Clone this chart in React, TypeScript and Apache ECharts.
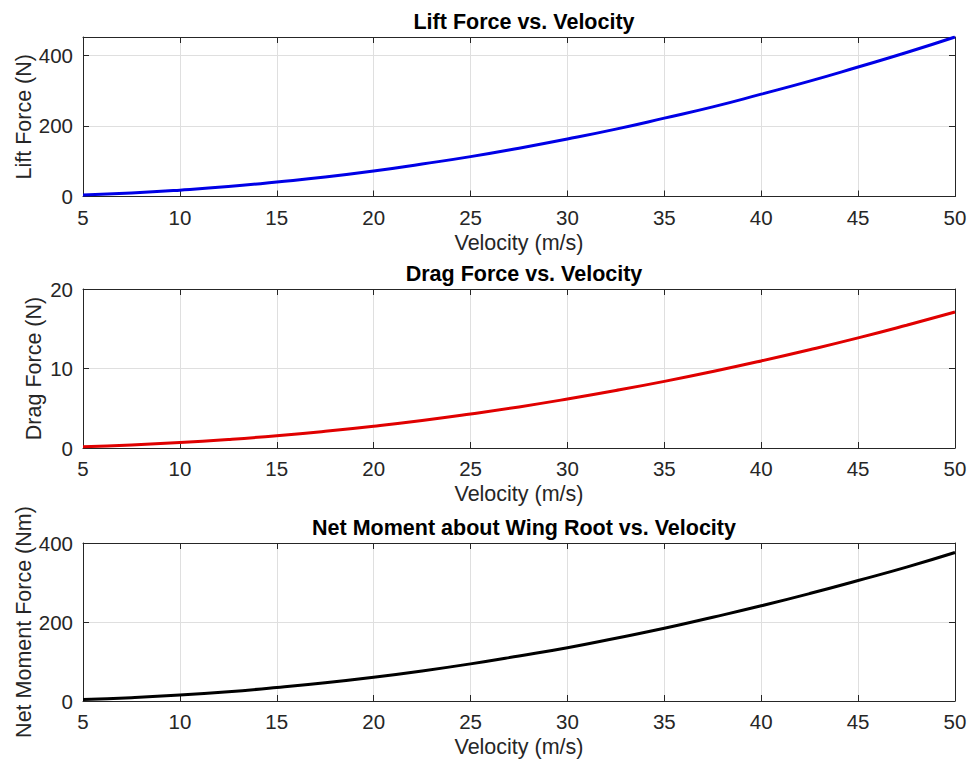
import React, { useEffect, useRef } from "react";
import * as echarts from "echarts";

const velocity = [5, 7.5, 10, 12.5, 15, 17.5, 20, 22.5, 25, 27.5, 30, 32.5, 35, 37.5, 40, 42.5, 45, 47.5, 50];
const liftForce = [4.5, 10, 18, 28, 41, 55, 72, 92, 113, 137, 163, 191, 222, 254, 290, 327, 367, 408, 452];
const dragForce = [0.17, 0.38, 0.68, 1.07, 1.54, 2.1, 2.74, 3.46, 4.28, 5.17, 6.16, 7.23, 8.38, 9.62, 10.95, 12.36, 13.85, 15.44, 17.1];
const netMoment = [3.8, 8.5, 15, 23.5, 34, 46, 60, 76, 94, 114, 135, 159, 184, 212, 241, 272, 305, 339, 376];

const titles = ["Lift Force vs. Velocity", "Drag Force vs. Velocity", "Net Moment about Wing Root vs. Velocity"];
const yNames = ["Lift Force (N)", "Drag Force (N)", "Net Moment Force (Nm)"];
const xName = "Velocity (m/s)";
const yMax = [452, 20, 400];
const yInterval = [200, 10, 200];
const colors = ["#0000e6", "#e00000", "#000000"];
const seriesValues = [liftForce, dragForce, netMoment];

const gridTops = [37, 289, 543];
const gridHeights = [159.5, 159, 158];
const yNameGaps = [48, 38, 48];
const FONT = "'Liberation Sans', Arial, Helvetica, sans-serif";
const AXIS_COLOR = "#262626";

export default function App() {
  const ref = useRef<HTMLDivElement>(null);
  useEffect(() => {
    if (!ref.current) return;
    const chart = echarts.init(ref.current, null, { renderer: "svg" });
    const grids: any[] = [];
    const xAxes: any[] = [];
    const yAxes: any[] = [];
    const series: any[] = [];
    const title: any[] = [];
    for (let i = 0; i < 3; i++) {
      grids.push({ left: 83, top: gridTops[i], width: 872, height: gridHeights[i], show: false });
      title.push({
        text: titles[i],
        left: 519,
        textAlign: "center",
        top: gridTops[i] - 31,
        textStyle: { fontFamily: FONT, fontSize: 21.5, fontWeight: "bold", color: "#000" },
      });
      const common = {
        gridIndex: i,
        type: "value",
        axisLine: { show: true, onZero: false, lineStyle: { color: AXIS_COLOR, width: 1 } },
        axisTick: { show: true, inside: true, length: 6, lineStyle: { color: AXIS_COLOR } },
      };
      xAxes.push({
        ...common,
        position: "bottom",
        min: 5,
        max: 50,
        interval: 5,
        name: xName,
        nameLocation: "middle",
        nameGap: 35,
        nameMoveOverlap: false,
        nameTextStyle: { fontFamily: FONT, fontSize: 21.5, color: AXIS_COLOR },
        axisLabel: { fontFamily: FONT, fontSize: 20.5, color: AXIS_COLOR, margin: 10 },
        splitLine: { show: true, lineStyle: { color: "#dfdfdf", width: 1 } },
      });
      xAxes.push({
        ...common,
        position: "top",
        min: 5,
        max: 50,
        interval: 5,
        axisLabel: { show: false },
        splitLine: { show: false },
      });
      yAxes.push({
        ...common,
        position: "left",
        min: 0,
        max: yMax[i],
        interval: yInterval[i],
        name: yNames[i],
        nameLocation: "middle",
        nameGap: yNameGaps[i],
        nameMoveOverlap: false,
        nameRotate: 90,
        nameTextStyle: { fontFamily: FONT, fontSize: 21.5, color: AXIS_COLOR },
        axisLabel: { fontFamily: FONT, fontSize: 20.5, color: AXIS_COLOR, margin: 10, showMaxLabel: i !== 0 },
        splitLine: { show: true, lineStyle: { color: "#dfdfdf", width: 1 } },
      });
      yAxes.push({
        ...common,
        position: "right",
        min: 0,
        max: yMax[i],
        interval: yInterval[i],
        axisLabel: { show: false },
        splitLine: { show: false },
      });
      series.push({
        type: "line",
        xAxisIndex: i * 2,
        yAxisIndex: i * 2,
        data: velocity.map((v, k) => [v, seriesValues[i][k]]),
        smooth: true,
        showSymbol: false,
        lineStyle: { color: colors[i], width: 3 },
        itemStyle: { color: colors[i] },
        z: 5,
      });
    }
    chart.setOption({
      animation: false,
      backgroundColor: "#fff",
      title,
      grid: grids,
      xAxis: xAxes,
      yAxis: yAxes,
      series,
    });
    return () => chart.dispose();
  }, []);
  return (
    <div
      ref={ref}
      style={{ position: "fixed", left: 0, top: 0, width: 971, height: 764, background: "#fff" }}
    />
  );
}
